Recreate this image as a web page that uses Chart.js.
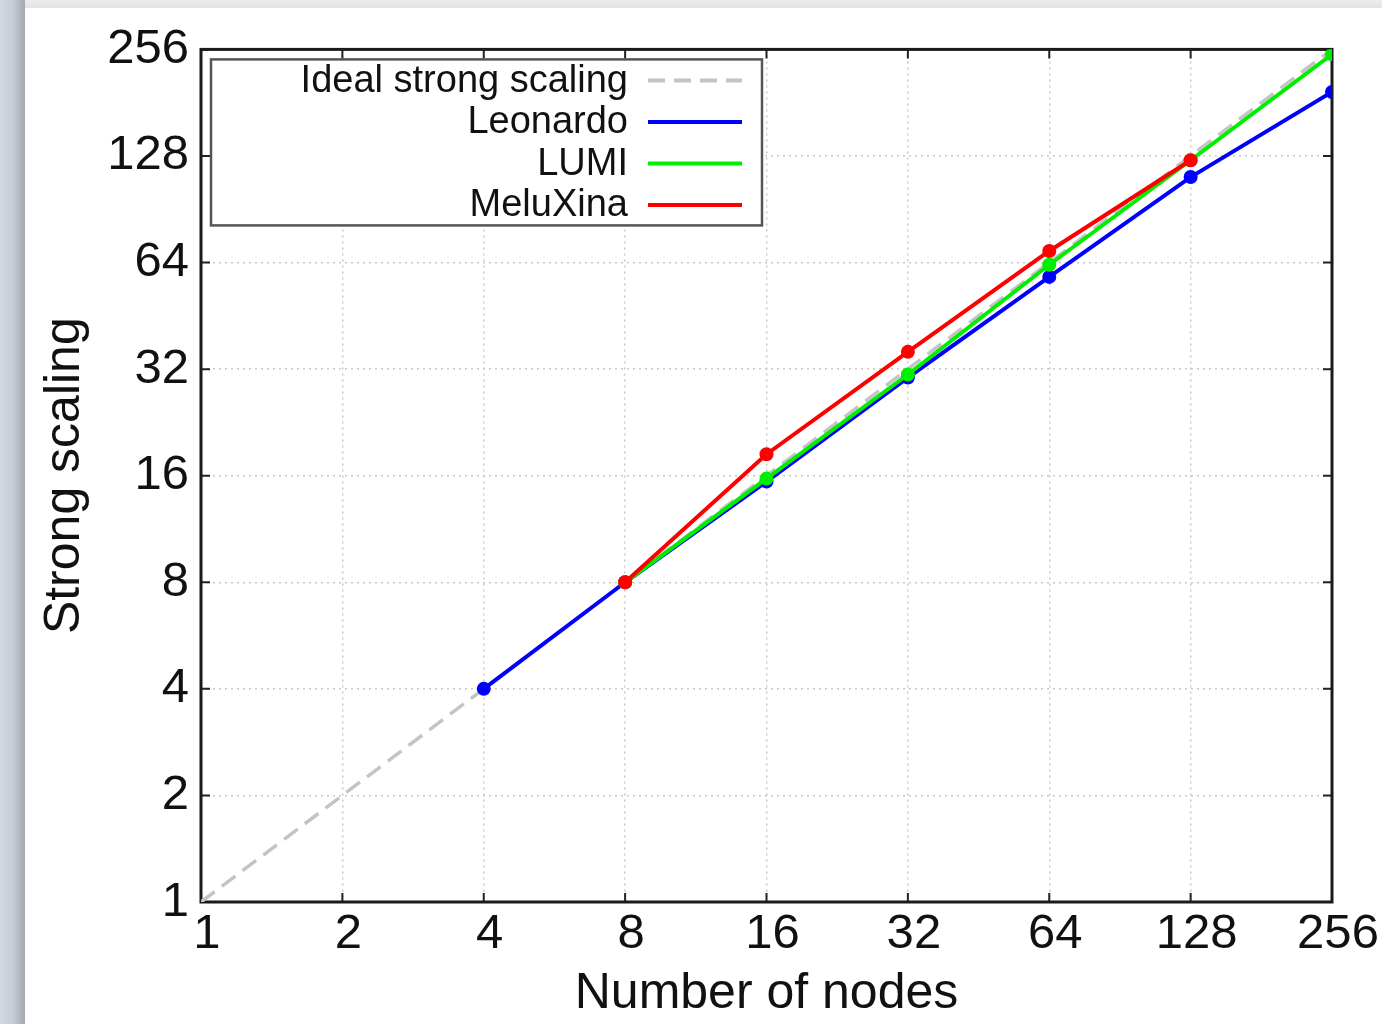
<!DOCTYPE html>
<html>
<head>
<meta charset="utf-8">
<script src="https://cdn.jsdelivr.net/npm/chart.js@4/dist/chart.umd.min.js"></script>
<style>
  html, body { margin: 0; padding: 0; width: 1382px; height: 1024px; overflow: hidden; background: #ffffff; }
  #topbar { position: absolute; left: 0; top: 0; width: 1382px; height: 8px; background: linear-gradient(to bottom, #ececee, #e2e3e6); }
  #leftbar { position: absolute; left: 0; top: 0; width: 25px; height: 1024px; background: linear-gradient(to right, #d3d7e0 0%, #c6cad3 55%, #a3a6ae 100%); }
  #wrap { position: absolute; left: 25px; top: 8px; width: 1357px; height: 1016px; background: #fff; }
</style>
</head>
<body>
<div id="topbar"></div>
<div id="leftbar"></div>
<div id="wrap"><canvas id="c" width="1357" height="1016"></canvas></div>
<script>
// ---- data ----
const tickValues = [1, 2, 4, 8, 16, 32, 64, 128, 256];
const idealNodes = [1, 2, 4, 8, 16, 32, 64, 128, 256];
const idealScaling = [1, 2, 4, 8, 16, 32, 64, 128, 256];
const leonardoNodes = [4, 8, 16, 32, 64, 128, 256];
const leonardoScaling = [4, 8, 15.4, 30.3, 58.3, 111.6, 194];
const lumiNodes = [8, 16, 32, 64, 128, 256];
const lumiScaling = [8, 15.7, 30.9, 63.1, 124.5, 248];
const meluxinaNodes = [8, 16, 32, 64, 128];
const meluxinaScaling = [8, 18.4, 35.8, 69, 124.5];
const seriesNames = ['Ideal strong scaling', 'Leonardo', 'LUMI', 'MeluXina'];
const xTitle = 'Number of nodes';
const yTitle = 'Strong scaling';

const pts = (xs, ys) => xs.map((x, i) => ({ x: x, y: ys[i] }));

const FONT = "'Liberation Sans', Arial, Helvetica, sans-serif";

const frameAndTicks = {
  id: 'frameAndTicks',
  beforeDatasetsDraw(chart) {
    const { ctx, chartArea: a, scales } = chart;
    ctx.save();
    ctx.strokeStyle = '#222';
    ctx.lineWidth = 2;
    const tl = 9;
    tickValues.forEach(v => {
      const x = scales.x.getPixelForValue(v);
      const y = scales.y.getPixelForValue(v);
      ctx.beginPath();
      ctx.moveTo(x, a.bottom); ctx.lineTo(x, a.bottom - tl);
      ctx.moveTo(x, a.top); ctx.lineTo(x, a.top + tl);
      ctx.moveTo(a.left, y); ctx.lineTo(a.left + tl, y);
      ctx.moveTo(a.right, y); ctx.lineTo(a.right - tl, y);
      ctx.stroke();
    });
    ctx.lineWidth = 3;
    ctx.strokeStyle = '#1a1a1a';
    ctx.strokeRect(a.left, a.top, a.right - a.left, a.bottom - a.top);
    ctx.restore();
  }
};

const keyBox = {
  id: 'keyBox',
  afterDatasetsDraw(chart) {
    const { ctx, chartArea: a } = chart;
    const bx = a.left + 10, by = a.top + 10, bw = 551, bh = 166;
    ctx.save();
    ctx.fillStyle = '#fff';
    ctx.fillRect(bx, by, bw, bh);
    ctx.strokeStyle = '#555';
    ctx.lineWidth = 2.5;
    ctx.strokeRect(bx, by, bw, bh);
    ctx.font = '38px ' + FONT;
    ctx.textAlign = 'right';
    ctx.textBaseline = 'middle';
    chart.data.datasets.forEach((ds, i) => {
      const cy = by + 21 + i * 41.5;
      ctx.fillStyle = '#111';
      ctx.fillText(ds.label, bx + 417, cy + 1);
      ctx.beginPath();
      ctx.strokeStyle = ds.borderColor;
      ctx.lineWidth = 4;
      ctx.setLineDash(ds.borderDash || []);
      ctx.moveTo(bx + 437, cy);
      ctx.lineTo(bx + 531, cy);
      ctx.stroke();
      ctx.setLineDash([]);
    });
    ctx.restore();
  }
};

const tickFont = { family: FONT, size: 49 };

new Chart(document.getElementById('c'), {
  type: 'line',
  data: {
    datasets: [
      { label: seriesNames[0], data: pts(idealNodes, idealScaling), borderColor: '#c4c4c4', borderDash: [17, 9], borderWidth: 3.5, pointRadius: 0, order: 4 },
      { label: seriesNames[1], data: pts(leonardoNodes, leonardoScaling), borderColor: '#0000ff', backgroundColor: '#0000ff', borderWidth: 4, pointRadius: 7, pointBorderWidth: 0, order: 3 },
      { label: seriesNames[2], data: pts(lumiNodes, lumiScaling), borderColor: '#00ee00', backgroundColor: '#00ee00', borderWidth: 4, pointRadius: 7, pointBorderWidth: 0, order: 2 },
      { label: seriesNames[3], data: pts(meluxinaNodes, meluxinaScaling), borderColor: '#ff0000', backgroundColor: '#ff0000', borderWidth: 4, pointRadius: 7, pointBorderWidth: 0, order: 1 }
    ]
  },
  options: {
    responsive: false,
    animation: false,
    events: [],
    layout: { padding: { top: 39, right: 50, left: 0, bottom: 0 } },
    plugins: { legend: { display: false }, tooltip: { enabled: false } },
    elements: { line: { tension: 0 } },
    scales: {
      x: {
        type: 'logarithmic', min: 1, max: 256,
        afterBuildTicks: s => { s.ticks = tickValues.map(v => ({ value: v })); },
        afterFit: s => { s.height = 122; },
        ticks: { font: tickFont, color: '#111', padding: 3, labelOffset: 6, maxRotation: 0, autoSkip: false, callback: v => String(v) },
        grid: { drawTicks: false, color: '#c8c8c8', lineWidth: 1.5 },
        border: { display: false, dash: [2, 4] },
        title: { display: true, text: xTitle, font: { family: FONT, size: 50 }, color: '#111', padding: { top: 0, bottom: 0 } }
      },
      y: {
        type: 'logarithmic', min: 1, max: 256,
        afterBuildTicks: s => { s.ticks = tickValues.map(v => ({ value: v })); },
        afterFit: s => { s.width = 176; },
        ticks: { font: tickFont, color: '#111', padding: 12, autoSkip: false, callback: v => String(v) },
        grid: { drawTicks: false, color: '#c8c8c8', lineWidth: 1.5 },
        border: { display: false, dash: [2, 4] },
        title: { display: true, text: yTitle, font: { family: FONT, size: 50 }, color: '#111', padding: { top: 10, bottom: 0 } }
      }
    }
  },
  plugins: [frameAndTicks, keyBox]
});
</script>
</body>
</html>
